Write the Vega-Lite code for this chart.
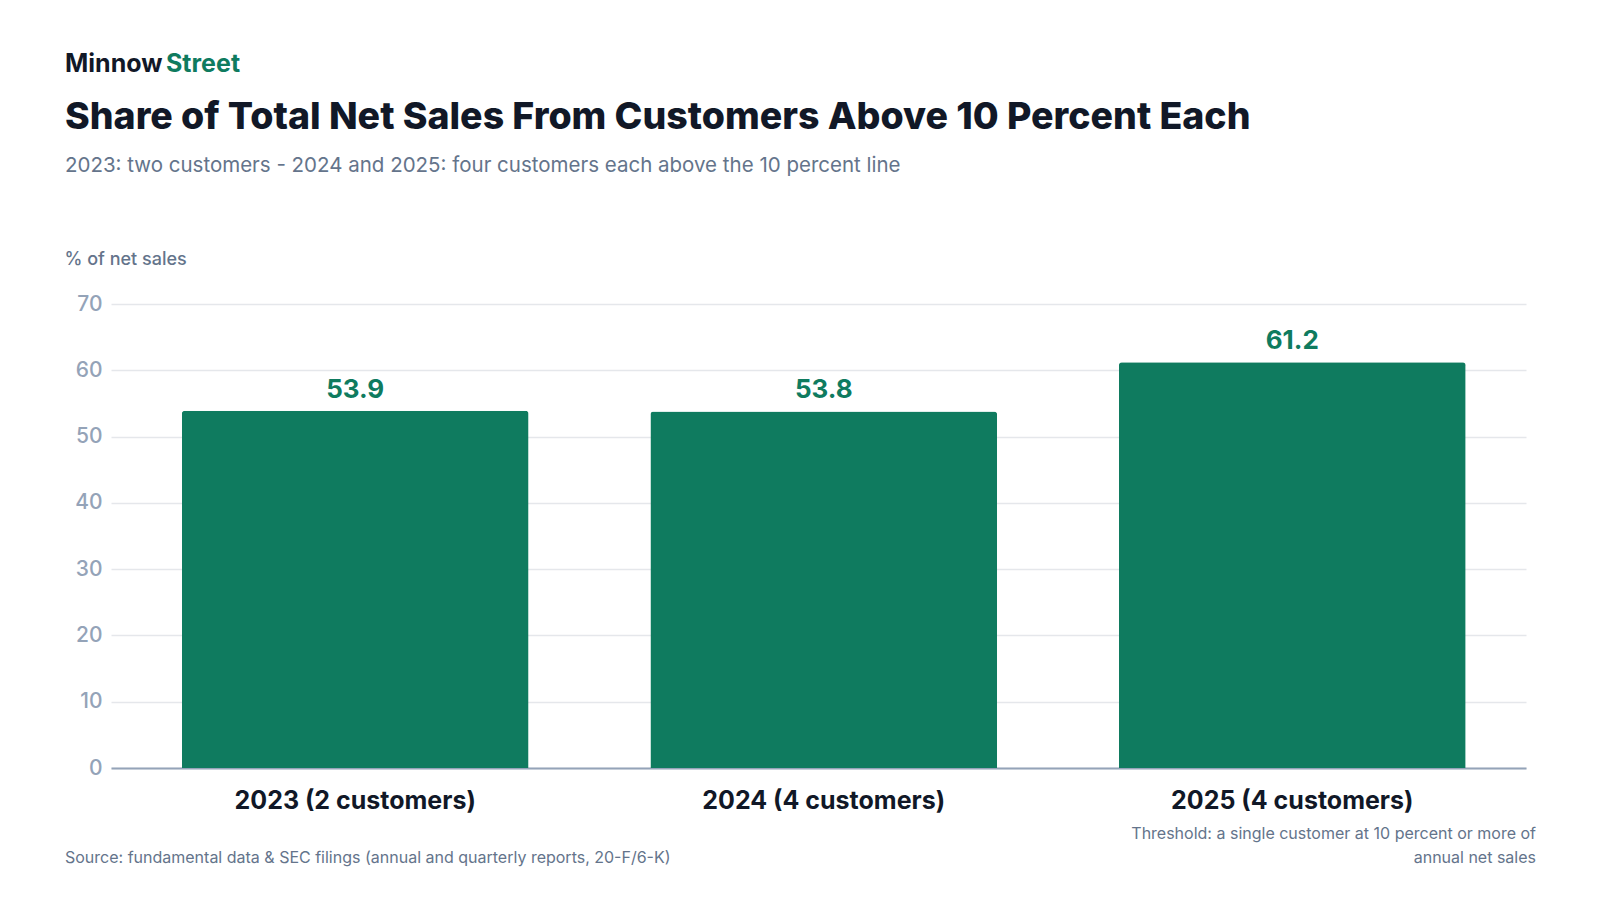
{
  "$schema": "https://vega.github.io/schema/vega-lite/v6.json",
  "width": 1415,
  "height": 464,
  "autosize": {"type": "none"},
  "padding": {"left": 111, "top": 304, "right": 74, "bottom": 132},
  "background": "#ffffff",
  "config": {"font": "Inter", "view": {"stroke": null}},
  "title": {
    "text": "Share of Total Net Sales From Customers Above 10 Percent Each",
    "subtitle": "2023: two customers - 2024 and 2025: four customers each above the 10 percent line",
    "anchor": "start",
    "frame": "group",
    "dx": -46,
    "offset": -124,
    "fontSize": 37.5,
    "fontWeight": 800,
    "color": "#111827",
    "subtitleFont": "Inter",
    "subtitleFontSize": 20.5,
    "subtitleColor": "#64748b",
    "subtitlePadding": 19
  },
  "data": {
    "values": [
      {"label": "2023 (2 customers)", "share": 53.9},
      {"label": "2024 (4 customers)", "share": 53.8},
      {"label": "2025 (4 customers)", "share": 61.2}
    ]
  },
  "layer": [
    {
      "mark": {
        "type": "bar",
        "color": "#0f7b5f",
        "cornerRadiusTopLeft": 3,
        "cornerRadiusTopRight": 3
      },
      "encoding": {
        "x": {
          "field": "label",
          "type": "nominal",
          "sort": null,
          "scale": {"paddingInner": 0.26, "paddingOuter": 0.14, "align": 0.54},
          "axis": {
            "title": null,
            "labelAngle": 0,
            "labelLimit": 0,
            "labelFontSize": 25,
            "labelFontWeight": 700,
            "labelColor": "#111827",
            "labelPadding": 20,
            "ticks": false,
            "domainColor": "#94a3b8",
            "domainWidth": 2
          }
        },
        "y": {
          "field": "share",
          "type": "quantitative",
          "scale": {"domain": [0, 70]},
          "axis": {
            "values": [0, 10, 20, 30, 40, 50, 60, 70],
            "grid": true,
            "gridColor": "#e5e7eb",
            "gridWidth": 1.5,
            "domain": false,
            "ticks": false,
            "labelFontSize": 21,
            "labelFontWeight": 500,
            "labelColor": "#94a3b8",
            "labelPadding": 9,
            "title": "% of net sales",
            "titleAngle": 0,
            "titleAlign": "left",
            "titleBaseline": "alphabetic",
            "titleX": -47,
            "titleY": -40,
            "titleFontSize": 18,
            "titleFontWeight": 500,
            "titleColor": "#64748b"
          }
        }
      }
    },
    {
      "mark": {
        "type": "text",
        "baseline": "alphabetic",
        "dy": -13,
        "fontSize": 26,
        "fontWeight": 700,
        "color": "#0f7b5f"
      },
      "encoding": {
        "x": {"field": "label", "type": "nominal", "sort": null},
        "y": {"field": "share", "type": "quantitative"},
        "text": {"field": "share", "type": "quantitative", "format": ".1f"}
      }
    },
    {
      "data": {"values": [{}]},
      "mark": {
        "type": "text",
        "text": "Minnow",
        "x": -46,
        "y": -232,
        "align": "left",
        "baseline": "alphabetic",
        "fontSize": 25,
        "fontWeight": 700,
        "color": "#111827"
      },
      "encoding": {}
    },
    {
      "data": {"values": [{}]},
      "mark": {
        "type": "text",
        "text": "Street",
        "x": 55,
        "y": -232,
        "align": "left",
        "baseline": "alphabetic",
        "fontSize": 25,
        "fontWeight": 700,
        "color": "#0f7b5f"
      },
      "encoding": {}
    },
    {
      "data": {"values": [{}]},
      "mark": {
        "type": "text",
        "text": ["Threshold: a single customer at 10 percent or more of", "annual net sales"],
        "x": 1425,
        "y": 534.5,
        "align": "right",
        "baseline": "alphabetic",
        "lineHeight": 24,
        "fontSize": 16,
        "color": "#64748b"
      },
      "encoding": {}
    },
    {
      "data": {"values": [{}]},
      "mark": {
        "type": "text",
        "text": "Source: fundamental data & SEC filings (annual and quarterly reports, 20-F/6-K)",
        "x": -46,
        "y": 559,
        "align": "left",
        "baseline": "alphabetic",
        "fontSize": 16,
        "color": "#64748b"
      },
      "encoding": {}
    }
  ]
}
